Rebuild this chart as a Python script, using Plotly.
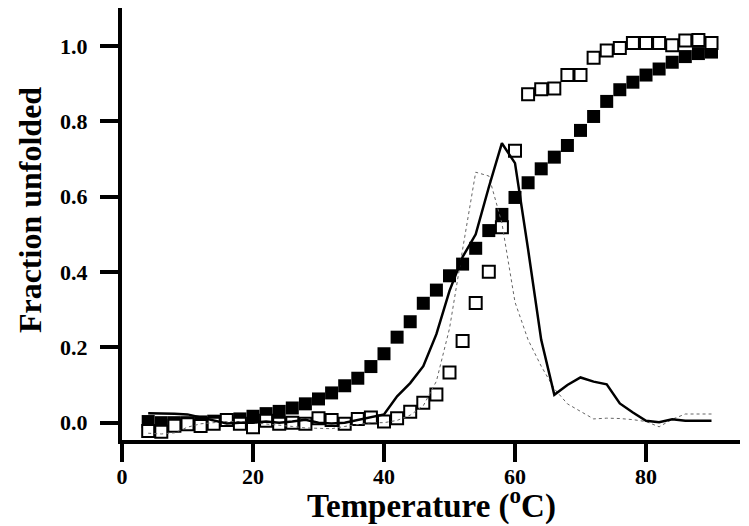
import plotly.graph_objects as go

temperature = [4, 6, 8, 10, 12, 14, 16, 18, 20, 22, 24, 26, 28, 30, 32, 34, 36, 38, 40, 42, 44, 46,
               48, 50, 52, 54, 56, 58, 60, 62, 64, 66, 68, 70, 72, 74, 76, 78, 80, 82, 84, 86, 88, 90]

filled_squares = [0.003, 0.0, 0.0, 0.0, 0.002, 0.004, 0.007, 0.01, 0.017, 0.024, 0.03, 0.039, 0.05, 0.063,
                  0.079, 0.098, 0.118, 0.149, 0.183, 0.227, 0.268, 0.317, 0.352, 0.39, 0.421, 0.463, 0.51,
                  0.553, 0.598, 0.637, 0.674, 0.705, 0.736, 0.776, 0.813, 0.853, 0.884, 0.904, 0.923, 0.939,
                  0.957, 0.972, 0.98, 0.984]

open_squares = [-0.022, -0.024, -0.008, -0.004, -0.009, -0.003, 0.007, -0.003, -0.012, 0.005, -0.003, 0.0,
                -0.003, 0.012, 0.007, -0.003, 0.01, 0.014, 0.003, 0.012, 0.029, 0.053, 0.075, 0.133, 0.217,
                0.318, 0.401, 0.519, 0.722, 0.872, 0.885, 0.887, 0.923, 0.923, 0.969, 0.988, 0.995, 1.008,
                1.008, 1.008, 1.002, 1.015, 1.016, 1.008]

solid_line = [0.025, 0.025, 0.024, 0.022, 0.014, 0.004, -0.002, 0.0, 0.0, 0.003, 0.0, 0.003, 0.008, 0.0,
              -0.002, 0.0, 0.007, 0.014, 0.022, 0.07, 0.105, 0.15, 0.235, 0.35, 0.44, 0.5, 0.625, 0.742,
              0.689, 0.46, 0.22, 0.074, 0.1, 0.12, 0.109, 0.102, 0.051, 0.027, 0.005, 0.001, 0.009, 0.005,
              0.005, 0.005]

dotted_line = [-0.028, -0.03, -0.027, -0.012, -0.003, 0.0, 0.003, 0.003, 0.0, -0.003, -0.006, -0.01, -0.014,
               -0.016, -0.016, -0.01, -0.004, 0.0, 0.0, 0.006, 0.02, 0.045, 0.11, 0.25, 0.46, 0.665, 0.655,
               0.53, 0.32, 0.22, 0.15, 0.09, 0.05, 0.029, 0.01, 0.012, 0.011, 0.008, 0.003, -0.011, 0.009,
               0.023, 0.023, 0.023]

x_ticks = [0, 20, 40, 60, 80]
y_ticks = [0.0, 0.2, 0.4, 0.6, 0.8, 1.0]
y_tick_labels = ["0.0", "0.2", "0.4", "0.6", "0.8", "1.0"]

FONT = "Liberation Serif, Times New Roman, serif"

fig = go.Figure()
fig.add_trace(go.Scatter(x=temperature, y=filled_squares, mode="markers",
                         marker=dict(symbol="square", size=13, color="black",
                                     line=dict(width=0)), showlegend=False))
fig.add_trace(go.Scatter(x=temperature, y=open_squares, mode="markers",
                         marker=dict(symbol="square", size=12, color="white",
                                     line=dict(width=2, color="black")), showlegend=False))
fig.add_trace(go.Scatter(x=temperature, y=dotted_line, mode="lines",
                         line=dict(color="#666666", width=1, dash="dot"), showlegend=False))
fig.add_trace(go.Scatter(x=temperature, y=solid_line, mode="lines",
                         line=dict(color="black", width=2.5), showlegend=False))

fig.update_layout(
    width=741, height=518,
    margin=dict(l=114, r=9, t=0, b=86),
    paper_bgcolor="white", plot_bgcolor="white",
    font=dict(family=FONT, color="black"),
    xaxis=dict(range=[0, 94.35], tickvals=x_ticks, ticks="outside", ticklen=18, tickwidth=4,
               tickcolor="black", showline=True, linewidth=4, linecolor="black",
               showgrid=False, zeroline=False, ticklabelstandoff=-4,
               tickfont=dict(family=FONT, size=22, weight="bold", color="black")),
    yaxis=dict(range=[-0.046, 1.101], tickvals=y_ticks, ticktext=y_tick_labels, ticks="outside",
               ticklen=18, tickwidth=4, tickcolor="black", showline=True, linewidth=4,
               linecolor="black", showgrid=False, zeroline=False, ticklabelstandoff=8,
               tickfont=dict(family=FONT, size=22, weight="bold", color="black")),
    annotations=[
        dict(text="Temperature (<sup>o</sup>C)", xref="paper", yref="paper", x=0.5, y=-0.146,
             xanchor="center", yanchor="middle", showarrow=False,
             font=dict(family=FONT, size=33, weight="bold", color="black")),
        dict(text="Fraction unfolded", xref="paper", yref="paper", x=-0.149, y=0.532,
             xanchor="center", yanchor="middle", textangle=-90, showarrow=False,
             font=dict(family=FONT, size=32, weight="bold", color="black")),
    ],
)

fig.write_html("out.html")
